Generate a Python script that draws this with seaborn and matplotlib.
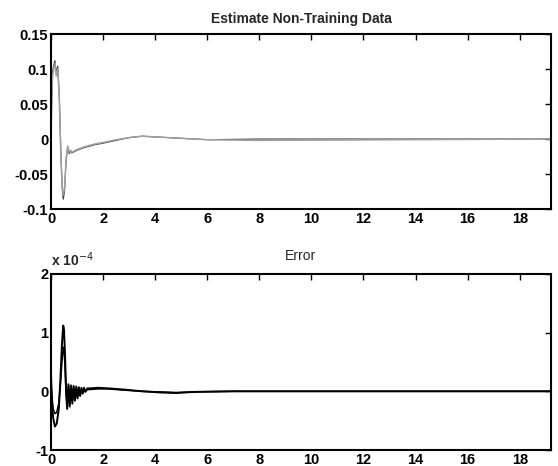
import matplotlib
matplotlib.use("Agg")
import matplotlib.pyplot as plt
import seaborn as sns
import pandas as pd

# ---- data ----
est_x = [0, 0.03, 0.06, 0.1, 0.15, 0.2, 0.26, 0.32, 0.38, 0.43, 0.47, 0.52, 0.58,
         0.64, 0.7, 0.75, 0.8, 1.0, 1.3, 1.7, 2.0, 2.5, 3.0, 3.5, 4.0, 4.5, 5.0,
         5.5, 6.0, 8.0, 19.2]
est_actual = [0.0, 0.06, 0.095, 0.105, 0.112, 0.095, 0.104, 0.06, -0.02, -0.07,
              -0.086, -0.075, -0.03, -0.012, -0.021, -0.017, -0.02, -0.016, -0.012,
              -0.008, -0.006, -0.002, 0.002, 0.004, 0.003, 0.002, 0.001, 0.0,
              -0.001, 0.0, 0.0]
est_model = [0.0, 0.05, 0.09, 0.1, 0.108, 0.09, 0.1, 0.055, -0.025, -0.068,
             -0.08, -0.07, -0.028, -0.01, -0.019, -0.016, -0.019, -0.015, -0.011,
             -0.007, -0.005, -0.001, 0.002, 0.004, 0.003, 0.002, 0.001, 0.0,
             -0.001, -0.002, 0.0]

err_x = [0, 0.03, 0.08, 0.15, 0.22, 0.3, 0.36, 0.42, 0.47, 0.5, 0.54, 0.58, 0.62,
         0.67, 0.72, 0.77, 0.82, 0.87, 0.92, 0.97, 1.02, 1.07, 1.12, 1.17, 1.22,
         1.27, 1.32, 1.4, 1.5, 1.8, 2.2, 2.8, 3.5, 4.2, 4.8, 5.5, 7.0,
         10.0, 19.2]
err_a = [0.3, -0.1, -0.45, -0.6, -0.55, -0.3, 0.2, 0.8, 1.12, 1.05, 0.6, 0.0,
         -0.3, 0.12, -0.26, 0.1, -0.21, 0.09, -0.16, 0.08, -0.12, 0.07, -0.08,
         0.06, -0.04, 0.06, -0.01, 0.05, 0.05, 0.06, 0.05, 0.03,
         0.0, -0.02, -0.03, -0.01, 0.0, 0.0, 0.0]
err_b = [0.1, -0.05, -0.3, -0.38, -0.36, -0.2, 0.1, 0.5, 0.75, 0.72, 0.4, -0.05,
         -0.22, 0.08, -0.19, 0.07, -0.15, 0.06, -0.11, 0.05, -0.08, 0.05, -0.05,
         0.04, -0.02, 0.04, 0.0, 0.03, 0.03, 0.04, 0.04, 0.02,
         0.0, -0.01, -0.02, -0.01, 0.0, 0.0, 0.0]

x_ticks = [0, 2, 4, 6, 8, 10, 12, 14, 16, 18]
top_yticks = [-0.1, -0.05, 0, 0.05, 0.1, 0.15]
top_ylabels = ["-0.1", "-0.05", "0", "0.05", "0.1", "0.15"]
bot_yticks = [-1, 0, 1, 2]

sns.set_theme(style="white")
plt.rcParams['font.family'] = ['Liberation Sans', 'DejaVu Sans']

fig = plt.figure(figsize=(5.58, 4.66), dpi=100)
ax1 = fig.add_axes([0.0914, 0.5515, 0.896, 0.3755])
ax2 = fig.add_axes([0.0914, 0.0343, 0.896, 0.378])

df_top = pd.DataFrame({"x": est_x, "actual": est_actual, "model": est_model})
sns.lineplot(data=df_top, x="x", y="actual", ax=ax1, color="#3a3a3a", lw=0.8,
             estimator=None, sort=False)
sns.lineplot(data=df_top, x="x", y="model", ax=ax1, color="#a0a0a0", lw=1.1,
             estimator=None, sort=False)

df_bot = pd.DataFrame({"x": err_x, "a": err_a, "b": err_b})
sns.lineplot(data=df_bot, x="x", y="a", ax=ax2, color="black", lw=1.4,
             estimator=None, sort=False)
sns.lineplot(data=df_bot, x="x", y="b", ax=ax2, color="black", lw=1.1,
             estimator=None, sort=False)

for ax in (ax1, ax2):
    ax.set_xlim(0, 19.2)
    ax.set_xticks(x_ticks)
    ax.set_xticklabels([str(t) for t in x_ticks])
    ax.set_xlabel("")
    ax.set_ylabel("")
    ax.tick_params(direction="in", top=True, right=True, length=4, width=1,
                   color="black", pad=2, labelsize=10.5, labelcolor="black")
    for lab in ax.get_xticklabels() + ax.get_yticklabels():
        lab.set_fontweight("bold")
    for s in ax.spines.values():
        s.set_color("black")
        s.set_linewidth(1.5)
    ax.grid(False)

ax1.set_ylim(-0.1, 0.15)
ax1.set_yticks(top_yticks)
ax1.set_yticklabels(top_ylabels, fontweight="bold")
ax1.set_title("Estimate Non-Training Data", fontsize=10, fontweight="bold", pad=8)

ax2.set_ylim(-1, 2)
ax2.set_yticks(bot_yticks)
ax2.set_yticklabels([str(t) for t in bot_yticks], fontweight="bold")
ax2.set_title("Error", fontsize=10, pad=10)
ax2.text(0.0, 1.025, "x 10$^{-4}$", transform=ax2.transAxes, fontsize=10,
         fontweight="bold", ha="left", va="bottom")

fig.savefig("out.png", dpi=100)
